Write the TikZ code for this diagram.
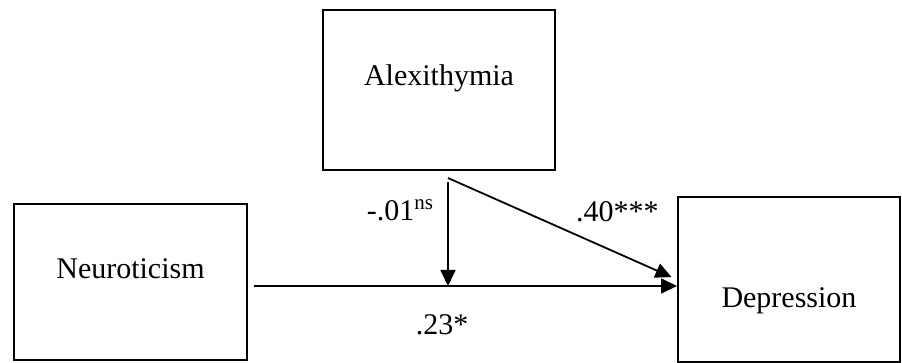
\documentclass[tikz,border=0pt]{standalone}
\usepackage{fontspec}
\setmainfont{Liberation Serif}
\usetikzlibrary{arrows.meta,positioning}

\begin{document}
\begin{tikzpicture}[x=0.5pt,y=-0.5pt,font=\fontsize{15pt}{18pt}\selectfont]
        \tikzset{
            construct/.style={
                draw=black,
                line width=1pt,
                minimum width=116pt,
                minimum height=80pt,
                inner sep=0pt
            },
            constructpath/.style={
                -{Triangle[length=8pt,width=7.5pt]},
                draw=black,
                line width=0.9pt
            },
            constructcoef/.style={inner sep=0pt}
        }
        \useasboundingbox (0,0) rectangle (902,363);

        \node[construct] (alex) at (439,90) {};
        \node[construct,minimum width=116.5pt,minimum height=78pt] (neuro) at (130.5,282) {};
        \node[construct,minimum width=111pt,minimum height=82.5pt] (depr) at (789,279.5) {};

        \node (alextext) at ([yshift=6pt]alex.center) {Alexithymia};
        \node (neurotext) at ([yshift=6.5pt]neuro.center) {Neuroticism};
        \node (deprtext) at ([yshift=-10.5pt]depr.center) {Depression};

        \coordinate (split) at ([xshift=4.5pt,yshift=-3.5pt]alex.south);
        \coordinate (tail) at ([xshift=3pt,yshift=-2pt]neuro.east);
        \coordinate (meet) at (split |- tail);

        \draw[constructpath] (tail) --
            node[pos=0.445,below=13.75pt,constructcoef]{.23*} (tail -| depr.west);
        \draw[constructpath] ([yshift=-2pt]split) --
            node[pos=0.27,left=6.5pt,constructcoef]{-.01\textsuperscript{ns}} (meet);
        \draw[constructpath,shorten >=3pt] (split) --
            node[pos=0.74,above=15pt,constructcoef]{.40***} (depr.west);
    \end{tikzpicture}
\end{document}
